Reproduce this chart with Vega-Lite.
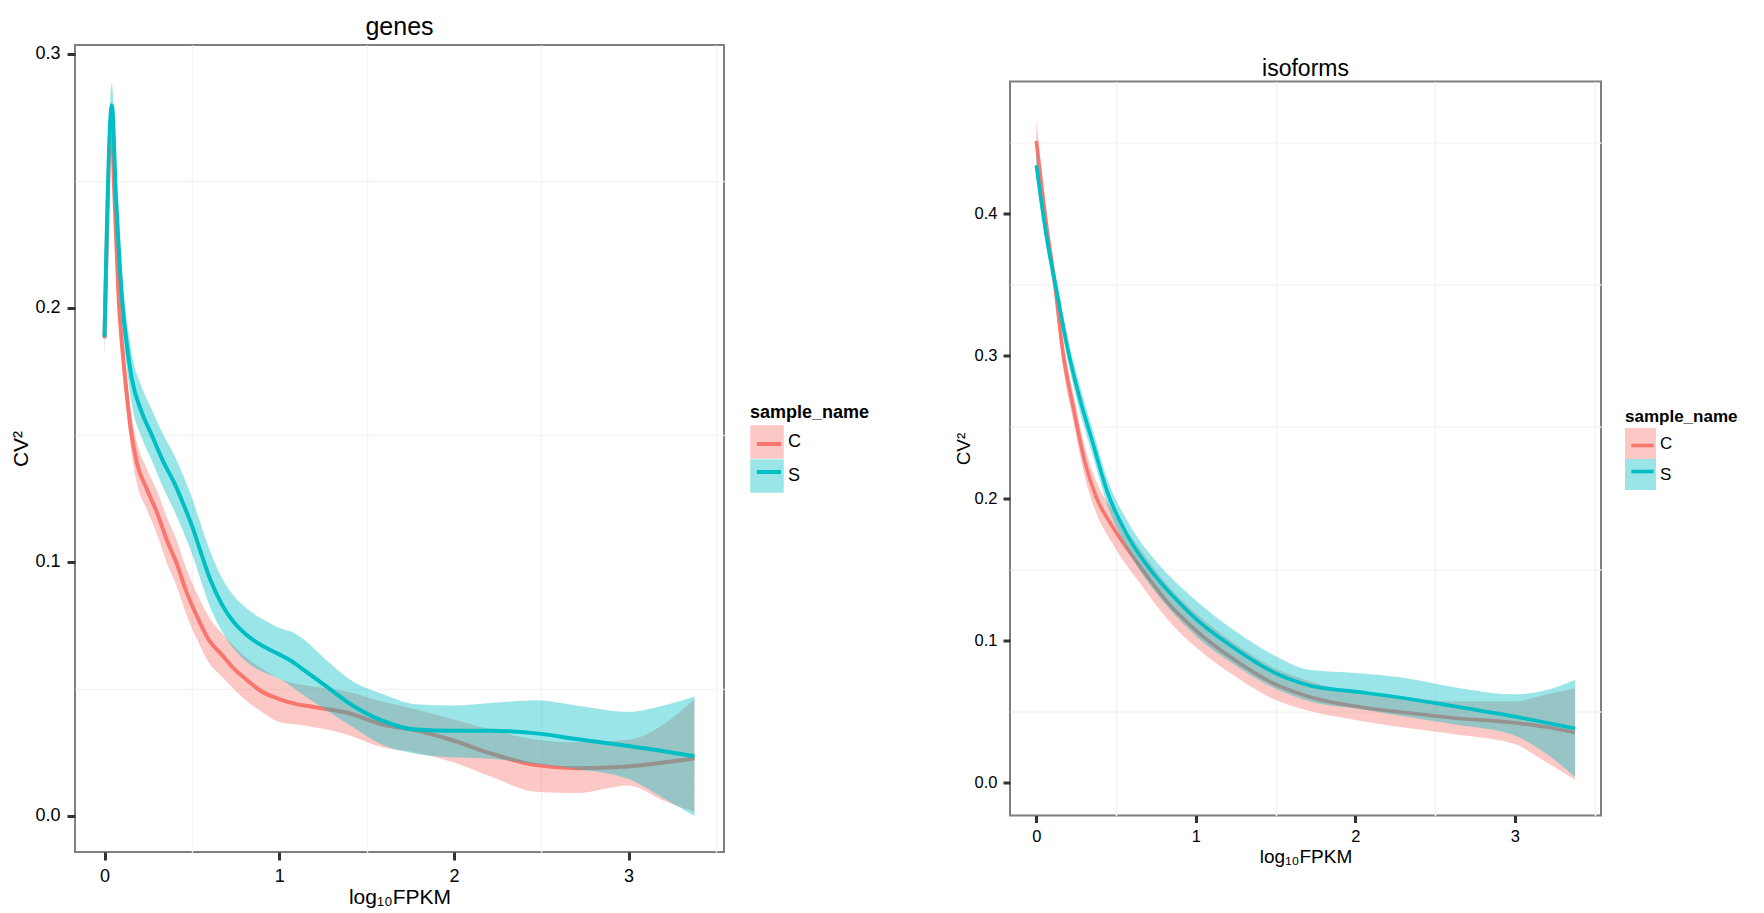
{
  "$schema": "https://vega.github.io/schema/vega-lite/v6.json",
  "padding": {"left": 9, "top": 13, "right": 5, "bottom": 5},
  "background": "white",
  "bounds": "flush",
  "center": true,
  "spacing": 286,
  "config": {
    "font": "Liberation Sans",
    "view": {"stroke": "#7F7F7F", "strokeWidth": 2},
    "axis": {
      "domain": false,
      "gridColor": "#EBEBEB",
      "gridWidth": 1.5,
      "tickColor": "#333333",
      "tickWidth": 3,
      "labelColor": "black",
      "titleColor": "black",
      "titleFontWeight": "normal",
      "labelFlush": false
    },
    "legend": {
      "titleColor": "black",
      "labelColor": "black",
      "titleFontWeight": "bold",
      "rowPadding": 0,
      "padding": 0
    },
    "title": {"color": "black", "fontWeight": "normal", "baseline": "bottom", "anchor": "middle", "frame": "group"}
  },
  "datasets": {
    "genes": [
      {"sample_name": "C", "fpkm": 0, "cv2": 0.188, "lower": 0.180, "upper": 0.196},
      {"sample_name": "C", "fpkm": 0.042, "cv2": 0.272, "lower": 0.263, "upper": 0.281},
      {"sample_name": "C", "fpkm": 0.053, "cv2": 0.251, "lower": 0.243, "upper": 0.259},
      {"sample_name": "C", "fpkm": 0.08, "cv2": 0.205, "lower": 0.197, "upper": 0.213},
      {"sample_name": "C", "fpkm": 0.109, "cv2": 0.1787, "lower": 0.171, "upper": 0.187},
      {"sample_name": "C", "fpkm": 0.128, "cv2": 0.1656, "lower": 0.158, "upper": 0.173},
      {"sample_name": "C", "fpkm": 0.15, "cv2": 0.1525, "lower": 0.145, "upper": 0.160},
      {"sample_name": "C", "fpkm": 0.185, "cv2": 0.139, "lower": 0.131, "upper": 0.147},
      {"sample_name": "C", "fpkm": 0.24, "cv2": 0.129, "lower": 0.121, "upper": 0.137},
      {"sample_name": "C", "fpkm": 0.30, "cv2": 0.1195, "lower": 0.111, "upper": 0.128},
      {"sample_name": "C", "fpkm": 0.36, "cv2": 0.108, "lower": 0.099, "upper": 0.117},
      {"sample_name": "C", "fpkm": 0.41, "cv2": 0.100, "lower": 0.091, "upper": 0.109},
      {"sample_name": "C", "fpkm": 0.47, "cv2": 0.088, "lower": 0.079, "upper": 0.097},
      {"sample_name": "C", "fpkm": 0.54, "cv2": 0.077, "lower": 0.068, "upper": 0.086},
      {"sample_name": "C", "fpkm": 0.60, "cv2": 0.069, "lower": 0.060, "upper": 0.078},
      {"sample_name": "C", "fpkm": 0.67, "cv2": 0.0636, "lower": 0.055, "upper": 0.072},
      {"sample_name": "C", "fpkm": 0.74, "cv2": 0.058, "lower": 0.050, "upper": 0.067},
      {"sample_name": "C", "fpkm": 0.80, "cv2": 0.0544, "lower": 0.046, "upper": 0.063},
      {"sample_name": "C", "fpkm": 0.90, "cv2": 0.049, "lower": 0.041, "upper": 0.058},
      {"sample_name": "C", "fpkm": 1.0, "cv2": 0.046, "lower": 0.037, "upper": 0.054},
      {"sample_name": "C", "fpkm": 1.1, "cv2": 0.044, "lower": 0.036, "upper": 0.052},
      {"sample_name": "C", "fpkm": 1.195, "cv2": 0.0429, "lower": 0.035, "upper": 0.051},
      {"sample_name": "C", "fpkm": 1.39, "cv2": 0.0406, "lower": 0.032, "upper": 0.049},
      {"sample_name": "C", "fpkm": 1.59, "cv2": 0.036, "lower": 0.027, "upper": 0.045},
      {"sample_name": "C", "fpkm": 1.78, "cv2": 0.0337, "lower": 0.025, "upper": 0.042},
      {"sample_name": "C", "fpkm": 2.0, "cv2": 0.0296, "lower": 0.021, "upper": 0.038},
      {"sample_name": "C", "fpkm": 2.21, "cv2": 0.0246, "lower": 0.0155, "upper": 0.034},
      {"sample_name": "C", "fpkm": 2.47, "cv2": 0.0200, "lower": 0.0095, "upper": 0.030},
      {"sample_name": "C", "fpkm": 2.70, "cv2": 0.0188, "lower": 0.009, "upper": 0.029},
      {"sample_name": "C", "fpkm": 3.0, "cv2": 0.0195, "lower": 0.012, "upper": 0.030},
      {"sample_name": "C", "fpkm": 3.2, "cv2": 0.021, "lower": 0.006, "upper": 0.036},
      {"sample_name": "C", "fpkm": 3.377, "cv2": 0.0227, "lower": 0.0015, "upper": 0.046},
      {"sample_name": "S", "fpkm": 0, "cv2": 0.1886, "lower": 0.180, "upper": 0.197},
      {"sample_name": "S", "fpkm": 0.042, "cv2": 0.2798, "lower": 0.271, "upper": 0.288},
      {"sample_name": "S", "fpkm": 0.065, "cv2": 0.2444, "lower": 0.236, "upper": 0.253},
      {"sample_name": "S", "fpkm": 0.086, "cv2": 0.218, "lower": 0.209, "upper": 0.227},
      {"sample_name": "S", "fpkm": 0.105, "cv2": 0.1997, "lower": 0.191, "upper": 0.209},
      {"sample_name": "S", "fpkm": 0.128, "cv2": 0.1854, "lower": 0.176, "upper": 0.195},
      {"sample_name": "S", "fpkm": 0.156, "cv2": 0.1722, "lower": 0.162, "upper": 0.182},
      {"sample_name": "S", "fpkm": 0.213, "cv2": 0.159, "lower": 0.149, "upper": 0.169},
      {"sample_name": "S", "fpkm": 0.27, "cv2": 0.150, "lower": 0.140, "upper": 0.160},
      {"sample_name": "S", "fpkm": 0.337, "cv2": 0.1394, "lower": 0.129, "upper": 0.150},
      {"sample_name": "S", "fpkm": 0.40, "cv2": 0.131, "lower": 0.120, "upper": 0.142},
      {"sample_name": "S", "fpkm": 0.45, "cv2": 0.123, "lower": 0.112, "upper": 0.134},
      {"sample_name": "S", "fpkm": 0.507, "cv2": 0.113, "lower": 0.102, "upper": 0.124},
      {"sample_name": "S", "fpkm": 0.55, "cv2": 0.104, "lower": 0.093, "upper": 0.115},
      {"sample_name": "S", "fpkm": 0.606, "cv2": 0.093, "lower": 0.082, "upper": 0.104},
      {"sample_name": "S", "fpkm": 0.67, "cv2": 0.0835, "lower": 0.073, "upper": 0.094},
      {"sample_name": "S", "fpkm": 0.737, "cv2": 0.0765, "lower": 0.066, "upper": 0.087},
      {"sample_name": "S", "fpkm": 0.80, "cv2": 0.072, "lower": 0.0615, "upper": 0.0825},
      {"sample_name": "S", "fpkm": 0.867, "cv2": 0.0685, "lower": 0.058, "upper": 0.079},
      {"sample_name": "S", "fpkm": 0.93, "cv2": 0.066, "lower": 0.056, "upper": 0.0765},
      {"sample_name": "S", "fpkm": 1.0, "cv2": 0.0636, "lower": 0.054, "upper": 0.074},
      {"sample_name": "S", "fpkm": 1.07, "cv2": 0.061, "lower": 0.051, "upper": 0.0725},
      {"sample_name": "S", "fpkm": 1.13, "cv2": 0.058, "lower": 0.048, "upper": 0.070},
      {"sample_name": "S", "fpkm": 1.26, "cv2": 0.0515, "lower": 0.042, "upper": 0.062},
      {"sample_name": "S", "fpkm": 1.42, "cv2": 0.0435, "lower": 0.035, "upper": 0.053},
      {"sample_name": "S", "fpkm": 1.59, "cv2": 0.0375, "lower": 0.028, "upper": 0.048},
      {"sample_name": "S", "fpkm": 1.78, "cv2": 0.034, "lower": 0.0245, "upper": 0.044},
      {"sample_name": "S", "fpkm": 2.0, "cv2": 0.0335, "lower": 0.023, "upper": 0.0435},
      {"sample_name": "S", "fpkm": 2.21, "cv2": 0.0335, "lower": 0.0225, "upper": 0.0445},
      {"sample_name": "S", "fpkm": 2.47, "cv2": 0.0325, "lower": 0.0205, "upper": 0.0455},
      {"sample_name": "S", "fpkm": 2.70, "cv2": 0.0303, "lower": 0.0185, "upper": 0.0435},
      {"sample_name": "S", "fpkm": 3.0, "cv2": 0.0275, "lower": 0.0145, "upper": 0.041},
      {"sample_name": "S", "fpkm": 3.2, "cv2": 0.0255, "lower": 0.007, "upper": 0.0435},
      {"sample_name": "S", "fpkm": 3.377, "cv2": 0.0235, "lower": 0.0, "upper": 0.047}
    ],
    "isoforms": [
      {"sample_name": "C", "fpkm": 0, "cv2": 0.451, "lower": 0.436, "upper": 0.466},
      {"sample_name": "C", "fpkm": 0.062, "cv2": 0.393, "lower": 0.383, "upper": 0.403},
      {"sample_name": "C", "fpkm": 0.114, "cv2": 0.352, "lower": 0.342, "upper": 0.362},
      {"sample_name": "C", "fpkm": 0.166, "cv2": 0.303, "lower": 0.293, "upper": 0.313},
      {"sample_name": "C", "fpkm": 0.235, "cv2": 0.262, "lower": 0.252, "upper": 0.272},
      {"sample_name": "C", "fpkm": 0.304, "cv2": 0.2256, "lower": 0.215, "upper": 0.236},
      {"sample_name": "C", "fpkm": 0.374, "cv2": 0.201, "lower": 0.190, "upper": 0.212},
      {"sample_name": "C", "fpkm": 0.477, "cv2": 0.180, "lower": 0.168, "upper": 0.192},
      {"sample_name": "C", "fpkm": 0.65, "cv2": 0.152, "lower": 0.140, "upper": 0.164},
      {"sample_name": "C", "fpkm": 0.82, "cv2": 0.127, "lower": 0.115, "upper": 0.139},
      {"sample_name": "C", "fpkm": 1.0, "cv2": 0.107, "lower": 0.095, "upper": 0.119},
      {"sample_name": "C", "fpkm": 1.24, "cv2": 0.0864, "lower": 0.075, "upper": 0.098},
      {"sample_name": "C", "fpkm": 1.48, "cv2": 0.070, "lower": 0.059, "upper": 0.081},
      {"sample_name": "C", "fpkm": 1.72, "cv2": 0.060, "lower": 0.050, "upper": 0.071},
      {"sample_name": "C", "fpkm": 2.0, "cv2": 0.0536, "lower": 0.044, "upper": 0.063},
      {"sample_name": "C", "fpkm": 2.28, "cv2": 0.0495, "lower": 0.039, "upper": 0.060},
      {"sample_name": "C", "fpkm": 2.62, "cv2": 0.0454, "lower": 0.034, "upper": 0.057},
      {"sample_name": "C", "fpkm": 3.0, "cv2": 0.042, "lower": 0.027, "upper": 0.057},
      {"sample_name": "C", "fpkm": 3.2, "cv2": 0.039, "lower": 0.014, "upper": 0.062},
      {"sample_name": "C", "fpkm": 3.377, "cv2": 0.035, "lower": 0.002, "upper": 0.066},
      {"sample_name": "S", "fpkm": 0, "cv2": 0.434, "lower": 0.425, "upper": 0.444},
      {"sample_name": "S", "fpkm": 0.062, "cv2": 0.385, "lower": 0.377, "upper": 0.393},
      {"sample_name": "S", "fpkm": 0.13, "cv2": 0.344, "lower": 0.336, "upper": 0.352},
      {"sample_name": "S", "fpkm": 0.2, "cv2": 0.303, "lower": 0.295, "upper": 0.311},
      {"sample_name": "S", "fpkm": 0.27, "cv2": 0.271, "lower": 0.262, "upper": 0.280},
      {"sample_name": "S", "fpkm": 0.356, "cv2": 0.238, "lower": 0.229, "upper": 0.247},
      {"sample_name": "S", "fpkm": 0.443, "cv2": 0.205, "lower": 0.196, "upper": 0.214},
      {"sample_name": "S", "fpkm": 0.58, "cv2": 0.172, "lower": 0.162, "upper": 0.182},
      {"sample_name": "S", "fpkm": 0.754, "cv2": 0.144, "lower": 0.133, "upper": 0.155},
      {"sample_name": "S", "fpkm": 0.9, "cv2": 0.126, "lower": 0.114, "upper": 0.138},
      {"sample_name": "S", "fpkm": 1.0, "cv2": 0.115, "lower": 0.103, "upper": 0.128},
      {"sample_name": "S", "fpkm": 1.24, "cv2": 0.0946, "lower": 0.083, "upper": 0.107},
      {"sample_name": "S", "fpkm": 1.48, "cv2": 0.078, "lower": 0.067, "upper": 0.090},
      {"sample_name": "S", "fpkm": 1.72, "cv2": 0.068, "lower": 0.057, "upper": 0.079},
      {"sample_name": "S", "fpkm": 2.0, "cv2": 0.0639, "lower": 0.052, "upper": 0.077},
      {"sample_name": "S", "fpkm": 2.28, "cv2": 0.0598, "lower": 0.047, "upper": 0.074},
      {"sample_name": "S", "fpkm": 2.62, "cv2": 0.0536, "lower": 0.041, "upper": 0.067},
      {"sample_name": "S", "fpkm": 3.0, "cv2": 0.0463, "lower": 0.033, "upper": 0.062},
      {"sample_name": "S", "fpkm": 3.2, "cv2": 0.042, "lower": 0.020, "upper": 0.065},
      {"sample_name": "S", "fpkm": 3.377, "cv2": 0.038, "lower": 0.004, "upper": 0.072}
    ]
  },
  "resolve": {
    "scale": {"fill": "independent", "stroke": "independent"},
    "legend": {"fill": "independent", "stroke": "independent"}
  },
  "hconcat": [
    {
      "width": 649,
      "height": 807,
      "title": {"text": "genes", "fontSize": 25, "offset": 5},
      "data": {"name": "genes"},
      "resolve": {"axis": {"x": "independent", "y": "independent"}},
      "layer": [
        {
          "transform": [{"filter": "datum.sample_name === 'C'"}],
          "mark": {"type": "area", "fillOpacity": 0.4, "interpolate": "monotone"},
          "encoding": {
            "x": {"field": "fpkm", "type": "quantitative", "scale": {"domain": [-0.169, 3.546], "nice": false, "zero": false},
              "axis": {"orient": "top", "values": [0.5, 1.5, 2.5, 3.5], "grid": true, "gridColor": "#F4F4F4", "labels": false, "ticks": false, "title": null}},
            "y": {"field": "lower", "type": "quantitative", "scale": {"domain": [-0.0142, 0.3035], "nice": false, "zero": false},
              "axis": {"orient": "right", "values": [0.05, 0.15, 0.25], "grid": true, "gridColor": "#F4F4F4", "labels": false, "ticks": false, "title": null}},
            "y2": {"field": "upper"},
            "fill": {"field": "sample_name", "type": "nominal", "scale": {"domain": ["C", "S"], "range": ["#F8766D", "#00BFC4"]},
              "legend": {"title": "sample_name", "orient": "none", "legendX": 675, "legendY": 359, "symbolType": "square", "symbolSize": 1122, "symbolStrokeWidth": 0, "titleFontSize": 18, "labelFontSize": 18, "titlePadding": 3, "labelOffset": 4,
                "encode": {"symbols": {"update": {"fillOpacity": {"value": 0.4}}}}}}
          }
        },
        {
          "transform": [{"filter": "datum.sample_name === 'C'"}],
          "mark": {"type": "line", "strokeWidth": 4, "interpolate": "monotone"},
          "encoding": {
            "x": {"field": "fpkm", "type": "quantitative", "scale": {"domain": [-0.169, 3.546], "nice": false, "zero": false},
              "axis": {"orient": "bottom", "values": [0, 1, 2, 3], "format": "d", "title": "log₁₀FPKM", "titleFontSize": 21, "labelFontSize": 18, "tickSize": 8, "labelPadding": 7, "titlePadding": 1}},
            "y": {"field": "cv2", "type": "quantitative", "scale": {"domain": [-0.0142, 0.3035], "nice": false, "zero": false},
              "axis": {"orient": "left", "values": [0, 0.1, 0.2, 0.3], "format": ".1f", "title": "CV²", "titleFontSize": 21, "labelFontSize": 18, "tickSize": 8, "labelPadding": 7, "titlePadding": 3}},
            "stroke": {"field": "sample_name", "type": "nominal", "scale": {"range": ["#F8766D", "#00BFC4"]},
              "legend": {"title": null, "orient": "none", "legendX": 675, "legendY": 380, "symbolType": "M-0.72,0H0.72", "symbolSize": 1122, "symbolStrokeWidth": 4, "labelFontSize": 18, "labelOffset": 4, "labelExpr": "''"}}
          }
        },
        {
          "transform": [{"filter": "datum.sample_name === 'S'"}],
          "mark": {"type": "area", "fillOpacity": 0.4, "interpolate": "monotone"},
          "encoding": {
            "x": {"field": "fpkm", "type": "quantitative", "axis": null},
            "y": {"field": "lower", "type": "quantitative", "axis": null},
            "y2": {"field": "upper"},
            "fill": {"field": "sample_name", "type": "nominal", "scale": {"domain": ["C", "S"], "range": ["#F8766D", "#00BFC4"]},
              "legend": {"title": "sample_name", "orient": "none", "legendX": 675, "legendY": 359, "symbolType": "square", "symbolSize": 1122, "symbolStrokeWidth": 0, "titleFontSize": 18, "labelFontSize": 18, "titlePadding": 3, "labelOffset": 4,
                "encode": {"symbols": {"update": {"fillOpacity": {"value": 0.4}}}}}}
          }
        },
        {
          "transform": [{"filter": "datum.sample_name === 'S'"}],
          "mark": {"type": "line", "strokeWidth": 4, "interpolate": "monotone"},
          "encoding": {
            "x": {"field": "fpkm", "type": "quantitative", "axis": null},
            "y": {"field": "cv2", "type": "quantitative", "axis": null},
            "stroke": {"field": "sample_name", "type": "nominal", "scale": {"range": ["#F8766D", "#00BFC4"]},
              "legend": {"title": null, "orient": "none", "legendX": 675, "legendY": 380, "symbolType": "M-0.72,0H0.72", "symbolSize": 1122, "symbolStrokeWidth": 4, "labelFontSize": 18, "labelOffset": 4, "labelExpr": "''"}}
          }
        }
      ]
    },
    {
      "width": 591,
      "height": 734,
      "title": {"text": "isoforms", "fontSize": 23, "offset": 1},
      "data": {"name": "isoforms"},
      "resolve": {"axis": {"x": "independent", "y": "independent"}},
      "layer": [
        {
          "transform": [{"filter": "datum.sample_name === 'C'"}],
          "mark": {"type": "area", "fillOpacity": 0.4, "interpolate": "monotone"},
          "encoding": {
            "x": {"field": "fpkm", "type": "quantitative", "scale": {"domain": [-0.165, 3.54], "nice": false, "zero": false},
              "axis": {"orient": "top", "values": [0.5, 1.5, 2.5, 3.5], "grid": true, "gridColor": "#F4F4F4", "labels": false, "ticks": false, "title": null}},
            "y": {"field": "lower", "type": "quantitative", "scale": {"domain": [-0.0232, 0.4928], "nice": false, "zero": false},
              "axis": {"orient": "right", "values": [0.05, 0.15, 0.25, 0.35, 0.45], "grid": true, "gridColor": "#F4F4F4", "labels": false, "ticks": false, "title": null}},
            "y2": {"field": "upper"},
            "fill": {"field": "sample_name", "type": "nominal", "scale": {"domain": ["C", "S"], "range": ["#F8766D", "#00BFC4"]},
              "legend": {"title": "sample_name", "orient": "none", "legendX": 615, "legendY": 327, "symbolType": "square", "symbolSize": 961, "symbolStrokeWidth": 0, "titleFontSize": 17, "labelFontSize": 17, "titlePadding": 2.5, "labelOffset": 4,
                "encode": {"symbols": {"update": {"fillOpacity": {"value": 0.4}}}}}}
          }
        },
        {
          "transform": [{"filter": "datum.sample_name === 'C'"}],
          "mark": {"type": "line", "strokeWidth": 3.6, "interpolate": "monotone"},
          "encoding": {
            "x": {"field": "fpkm", "type": "quantitative", "scale": {"domain": [-0.165, 3.54], "nice": false, "zero": false},
              "axis": {"orient": "bottom", "values": [0, 1, 2, 3], "format": "d", "title": "log₁₀FPKM", "titleFontSize": 19, "labelFontSize": 16.5, "tickSize": 7, "labelPadding": 6, "titlePadding": 2}},
            "y": {"field": "cv2", "type": "quantitative", "scale": {"domain": [-0.0232, 0.4928], "nice": false, "zero": false},
              "axis": {"orient": "left", "values": [0, 0.1, 0.2, 0.3, 0.4], "format": ".1f", "title": "CV²", "titleFontSize": 19, "labelFontSize": 16.5, "tickSize": 7, "labelPadding": 6, "titlePadding": 1}},
            "stroke": {"field": "sample_name", "type": "nominal", "scale": {"range": ["#F8766D", "#00BFC4"]},
              "legend": {"title": null, "orient": "none", "legendX": 615, "legendY": 346.5, "symbolType": "M-0.72,0H0.72", "symbolSize": 961, "symbolStrokeWidth": 3.6, "labelFontSize": 17, "labelOffset": 4, "labelExpr": "''"}}
          }
        },
        {
          "transform": [{"filter": "datum.sample_name === 'S'"}],
          "mark": {"type": "area", "fillOpacity": 0.4, "interpolate": "monotone"},
          "encoding": {
            "x": {"field": "fpkm", "type": "quantitative", "axis": null},
            "y": {"field": "lower", "type": "quantitative", "axis": null},
            "y2": {"field": "upper"},
            "fill": {"field": "sample_name", "type": "nominal", "scale": {"domain": ["C", "S"], "range": ["#F8766D", "#00BFC4"]},
              "legend": {"title": "sample_name", "orient": "none", "legendX": 615, "legendY": 327, "symbolType": "square", "symbolSize": 961, "symbolStrokeWidth": 0, "titleFontSize": 17, "labelFontSize": 17, "titlePadding": 2.5, "labelOffset": 4,
                "encode": {"symbols": {"update": {"fillOpacity": {"value": 0.4}}}}}}
          }
        },
        {
          "transform": [{"filter": "datum.sample_name === 'S'"}],
          "mark": {"type": "line", "strokeWidth": 3.6, "interpolate": "monotone"},
          "encoding": {
            "x": {"field": "fpkm", "type": "quantitative", "axis": null},
            "y": {"field": "cv2", "type": "quantitative", "axis": null},
            "stroke": {"field": "sample_name", "type": "nominal", "scale": {"range": ["#F8766D", "#00BFC4"]},
              "legend": {"title": null, "orient": "none", "legendX": 615, "legendY": 346.5, "symbolType": "M-0.72,0H0.72", "symbolSize": 961, "symbolStrokeWidth": 3.6, "labelFontSize": 17, "labelOffset": 4, "labelExpr": "''"}}
          }
        }
      ]
    }
  ]
}
